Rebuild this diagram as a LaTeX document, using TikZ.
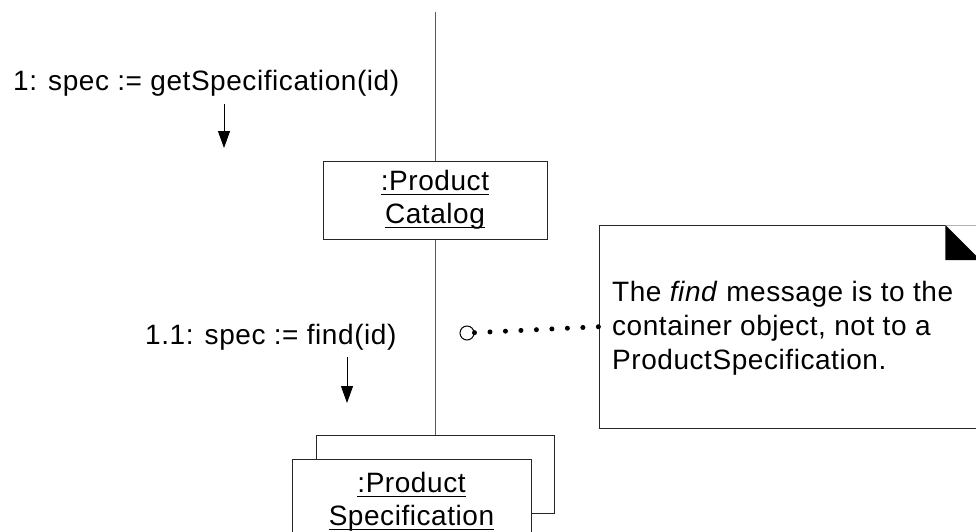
\documentclass[tikz,border=0pt]{standalone}
\usepackage{fontspec}
\setmainfont{Liberation Sans}[LetterSpace=2]
\usetikzlibrary{arrows.meta}
\newcommand{\myul}[1]{\setbox0\hbox{#1}\rlap{\rule[-4pt]{\wd0}{1.2pt}}\box0}
\begin{document}
\begin{tikzpicture}[x=1pt,y=-1pt,
  txt/.style={font=\fontsize{28}{34}\selectfont, inner sep=0pt},
  objbox/.style={draw=black!85, line width=1pt, fill=white, minimum height=78pt, align=center, inner sep=0pt, font=\fontsize{28}{33}\selectfont},
  link/.style={draw=black!65, line width=1pt},
  notebox/.style={draw=black!85, line width=1pt},
  msg/.style={line width=1pt, -{Triangle[length=17pt,width=12pt]}},
]
\useasboundingbox (0,0) rectangle (976,532);

% objects
\node[objbox, minimum width=224pt] (catalog) at (435,200) {\myul{:Product}\\\myul{Catalog}};
\node[objbox, minimum width=238pt] (specback) at (435,474) {};
\node[objbox, minimum width=239pt, minimum height=86pt] (spec) at (411.5,502) {\myul{:Product}\\\myul{Specification}};

% links
\coordinate (top) at (435,12);
\draw[link] (top) -- (catalog.north);
\draw[link] (catalog.south) -- (specback.north);

% messages
\node[txt, anchor=base west] (m1) at (13,91) {1: spec := getSpecification(id)};
\coordinate (m1a) at (224,104);
\coordinate (m1b) at (224,148);
\draw[msg] (m1a) -- (m1b);

\node[txt, anchor=base west] (m11) at (145,344) {1.1: spec := find(id)};
\coordinate (m11a) at (347,357);
\coordinate (m11b) at (347,403);
\draw[msg] (m11a) -- (m11b);

% note
\node[minimum width=377pt, minimum height=203pt, anchor=north west, inner sep=0pt] (note) at (599,225) {};
\draw[notebox] ([xshift=-31pt]note.north east) -- (note.north west) -- (note.south west) -- (note.south east);
\draw[line width=1pt, black!30] ([xshift=-31pt]note.north east) -- (note.north east);
\fill ([xshift=-31pt]note.north east) -- ([xshift=-31pt,yshift=-35pt]note.north east) -- ([xshift=4pt,yshift=-35pt]note.north east) -- cycle;
\node[txt, anchor=west, align=left] (notetext) at (612,328) {The \textit{find} message is to the\\container object, not to a\\ProductSpecification.};

% note anchor
\node[circle, draw=black, line width=1pt, minimum size=14pt, inner sep=0pt, fill=white] (anchorc) at (467,333) {};
\draw[line width=5pt, line cap=round, dash pattern=on 0pt off 15.5pt] (anchorc) -- (note.west);
\end{tikzpicture}
\end{document}
